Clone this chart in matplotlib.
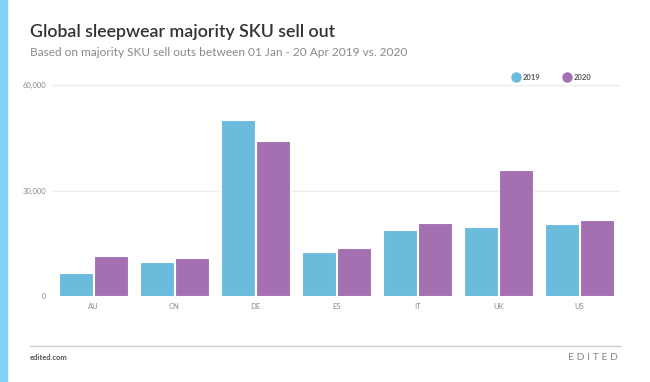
import matplotlib
matplotlib.use("Agg")
import matplotlib.pyplot as plt
import numpy as np
from matplotlib.patches import Rectangle

plt.rcParams['font.family'] = ['Lato', 'DejaVu Sans']

# data
countries = ["AU", "CN", "DE", "ES", "IT", "UK", "US"]
sales_2019 = [6500, 9700, 50000, 12400, 18800, 19500, 20600]
sales_2020 = [11300, 10700, 44000, 13700, 20700, 35800, 21500]
yticks = [0, 30000, 60000]

blue = "#6bbbdd"
purple = "#a570b1"

fig = plt.figure(figsize=(6.5, 3.82), dpi=100)
fig.patch.set_facecolor("white")

# left accent stripe
fig.patches.append(Rectangle((0, 0), 7 / 650, 1, transform=fig.transFigure,
                             color="#82d0f2", zorder=0))

ax = fig.add_axes([53 / 650, 1 - 296 / 382, 567 / 650, 211 / 382])
x = np.arange(len(countries))
w = 0.41
ax.bar(x - w / 2 - 0.01, sales_2019, width=w, color=blue, edgecolor="white",
       linewidth=0.8, zorder=3, label="2019")
ax.bar(x + w / 2 + 0.01, sales_2020, width=w, color=purple, edgecolor="white",
       linewidth=0.8, zorder=3, label="2020")

ax.set_xlim(-0.5, len(countries) - 0.5)
ax.set_ylim(0, 60000)
ax.set_yticks(yticks)
ax.set_yticklabels([f"{v:,}" for v in yticks])
ax.set_xticks(x)
ax.set_xticklabels(countries)
ax.grid(axis="y", color="#ececec", linewidth=1.0, zorder=0)
for s in ax.spines.values():
    s.set_visible(False)
ax.tick_params(axis="both", length=0, labelsize=5.5, labelcolor="#8a8a8a")
ax.tick_params(axis="y", pad=5)
ax.tick_params(axis="x", pad=5)

# legend as dots
ly = 1 - 77 / 382
fig.add_artist(plt.Line2D([516 / 650], [ly], marker="o", markersize=6.5,
                          color=blue, linestyle="none"))
fig.text(523 / 650, ly, "2019", color="#555555", fontsize=5.5,
         ha="left", va="center", fontweight="bold")
fig.add_artist(plt.Line2D([567 / 650], [ly], marker="o", markersize=6.5,
                          color=purple, linestyle="none"))
fig.text(574 / 650, ly, "2020", color="#555555", fontsize=5.5,
         ha="left", va="center", fontweight="bold")

# titles
fig.text(30 / 650, 1 - 32 / 382, "Global sleepwear majority SKU sell out",
         fontsize=12.8, color="#333333", fontweight="semibold",
         ha="left", va="center")
fig.text(30 / 650, 1 - 52 / 382,
         "Based on majority SKU sell outs between 01 Jan - 20 Apr 2019 vs. 2020",
         fontsize=8.6, color="#8a8a8a", ha="left", va="center")

# footer
fig.add_artist(plt.Line2D([30 / 650, 620 / 650], [1 - 346 / 382, 1 - 346 / 382],
                          color="#cccccc", linewidth=1.0))
fig.text(30 / 650, 1 - 357 / 382, "edited.com", fontsize=5.5, color="#555555",
         fontweight="bold", ha="left", va="center")
fig.text(618 / 650, 1 - 357 / 382, "E D I T E D", fontsize=7.5, color="#888888",
         ha="right", va="center")

fig.savefig("out.png", dpi=100, facecolor="white")
